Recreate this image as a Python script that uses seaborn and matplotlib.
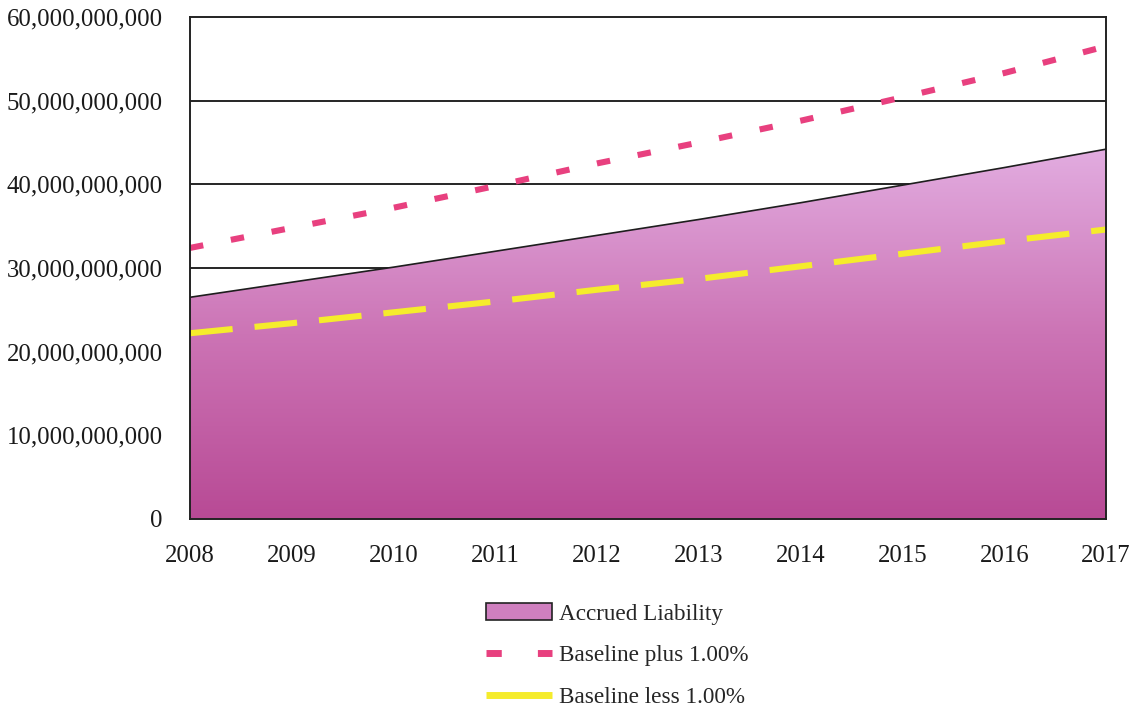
import numpy as np
import pandas as pd
import matplotlib
matplotlib.use("Agg")
import matplotlib.pyplot as plt
from matplotlib.colors import LinearSegmentedColormap
from matplotlib.patches import Patch
from matplotlib.lines import Line2D
from matplotlib.ticker import FuncFormatter
import seaborn as sns

years = [2008, 2009, 2010, 2011, 2012, 2013, 2014, 2015, 2016, 2017]
accrued_liability = [26.5e9, 28.3e9, 30.1e9, 32.0e9, 33.9e9, 35.8e9, 37.8e9, 39.9e9, 42.0e9, 44.2e9]
baseline_plus = [32.4e9, 34.8e9, 37.2e9, 39.8e9, 42.5e9, 45.0e9, 47.6e9, 50.4e9, 53.3e9, 56.5e9]
baseline_less = [22.2e9, 23.4e9, 24.7e9, 26.0e9, 27.4e9, 28.7e9, 30.2e9, 31.7e9, 33.2e9, 34.6e9]
series_names = ["Accrued Liability", "Baseline plus 1.00%", "Baseline less 1.00%"]

sns.set_theme(style="white")
plt.rcParams["font.family"] = ["Liberation Serif", "DejaVu Serif"]

PINK = "#e8407f"
YELLOW = "#f5ec2c"
PINK_DASH = [2.2, 4.6]
YELLOW_DASH = [7.0, 3.6]

df = pd.DataFrame({
    "year": years,
    "liability": accrued_liability,
    "plus": baseline_plus,
    "less": baseline_less,
})

fig = plt.figure(figsize=(11.36, 7.08), dpi=100)
ax = fig.add_axes([0.1673, 0.267, 0.8063, 0.709])

ax.set_xlim(years[0], years[-1])
ax.set_ylim(0, 60e9)

# horizontal gridlines behind the area
for v in np.arange(10e9, 60e9, 10e9):
    ax.axhline(v, color="black", lw=1.2, zorder=0)

# gradient-filled area for accrued liability
fill = ax.fill_between(df["year"], 0, df["liability"], facecolor="none",
                       edgecolor="none", zorder=1)
grad_cmap = LinearSegmentedColormap.from_list(
    "liab", ["#b84a95", "#cc74b5", "#e2ace0"])
grad = np.linspace(0, 1, 256).reshape(-1, 1)
img = ax.imshow(grad, extent=[years[0], years[-1], 0, max(accrued_liability)],
                origin="lower", aspect="auto", cmap=grad_cmap, zorder=1)
img.set_clip_path(fill.get_paths()[0], transform=ax.transData)
ax.plot(df["year"], df["liability"], color="#1e1e1e", lw=1.2, zorder=2)

sns.lineplot(data=df, x="year", y="plus", ax=ax, color=PINK, lw=4.4, zorder=3)
ax.lines[-1].set_dashes(PINK_DASH)
ax.lines[-1].set_dash_capstyle("butt")
sns.lineplot(data=df, x="year", y="less", ax=ax, color=YELLOW, lw=4.4, zorder=3)
ax.lines[-1].set_dashes(YELLOW_DASH)
ax.lines[-1].set_dash_capstyle("butt")

ax.set_xlabel("")
ax.set_ylabel("")
ax.set_xticks(years)
ax.set_xticklabels([str(y) for y in years])
ax.set_yticks(np.arange(0, 60e9 + 1, 10e9))
ax.yaxis.set_major_formatter(FuncFormatter(lambda v, p: f"{v:,.0f}"))
ax.tick_params(axis="both", labelsize=17.8, colors="#1a1a1a", length=0)
ax.tick_params(axis="x", pad=19)
ax.tick_params(axis="y", pad=19.5)
for s in ax.spines.values():
    s.set_color("#222222")
    s.set_linewidth(1.4)
    s.set_visible(True)
    s.set_zorder(5)

handles = [
    Patch(facecolor="#cf7fbf", edgecolor="#222222", lw=1.2),
    Line2D([0], [0], color=PINK, lw=5, dashes=[2.2, 5.2], dash_capstyle="butt"),
    Line2D([0], [0], color=YELLOW, lw=5, solid_capstyle="butt"),
]
fig.legend(handles, series_names, loc="center", bbox_to_anchor=(0.543, 0.074),
           frameon=False, fontsize=16.7, handlelength=2.85, handleheight=0.75,
           labelspacing=0.87, handletextpad=0.3)

fig.savefig("out.png", dpi=100, facecolor="white")
